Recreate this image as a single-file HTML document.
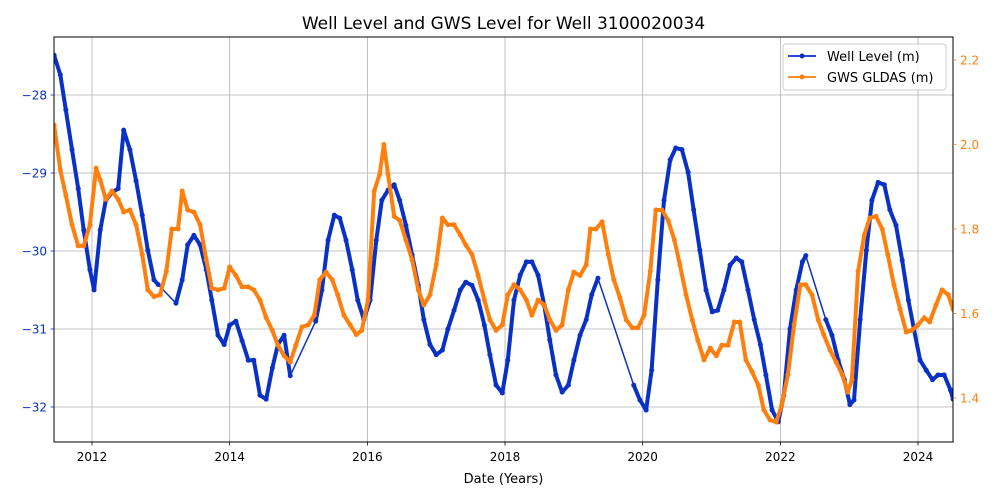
<!DOCTYPE html>
<html><head><meta charset="utf-8">
<style>
html,body{margin:0;padding:0;background:#fff;}
svg{display:block;font-family:"DejaVu Sans","Liberation Sans",sans-serif;}
</style></head>
<body>
<svg id="chart" width="1000" height="500" viewBox="0 0 1000 500" xmlns="http://www.w3.org/2000/svg">
<rect x="0" y="0" width="1000" height="500" fill="#fff"/>
<text x="503.5" y="29" font-size="17" text-anchor="middle" fill="#000">Well Level and GWS Level for Well 3100020034</text>
<defs><clipPath id="plotclip"><rect x="54" y="37" width="899" height="405"/></clipPath></defs>
<g id="grid"></g>
<g id="series" clip-path="url(#plotclip)"></g>
<rect x="54" y="37" width="899" height="405" fill="none" stroke="#000" stroke-width="1"/>
<g id="axes"></g>
<text x="503.5" y="483" font-size="13" text-anchor="middle" fill="#000">Date (Years)</text>
<g>
<rect x="783" y="44" width="163" height="46" rx="3" fill="#fff" fill-opacity="0.8" stroke="#ccc"/>
<g>
<line x1="788" y1="56" x2="816" y2="56" stroke="#0a31c6" stroke-width="1.8"/><circle cx="802" cy="56" r="2.5" fill="#0a31c6"/>
<text x="827" y="61" font-size="13" fill="#000">Well Level (m)</text></g>
<g>
<line x1="788" y1="77" x2="816" y2="77" stroke="#ff7f0e" stroke-width="1.8"/><circle cx="802" cy="77" r="2.5" fill="#ff7f0e"/>
<text x="827" y="82" font-size="13" fill="#000">GWS GLDAS (m)</text></g>
</g>
</svg>
<script>
const wellDates=[2011.45,2011.54,2011.62,2011.71,2011.80,2011.88,2011.97,2012.03,2012.12,2012.20,2012.29,2012.38,2012.46,2012.55,2012.64,2012.73,2012.81,2012.90,2012.96,2013.22,2013.31,2013.39,2013.48,2013.57,2013.66,2013.74,2013.83,2013.92,2014.00,2014.09,2014.18,2014.27,2014.35,2014.44,2014.53,2014.62,2014.70,2014.79,2014.88,2015.25,2015.34,2015.43,2015.52,2015.60,2015.69,2015.78,2015.86,2015.95,2016.04,2016.13,2016.21,2016.30,2016.39,2016.47,2016.56,2016.65,2016.74,2016.82,2016.91,2017.00,2017.09,2017.17,2017.26,2017.35,2017.43,2017.52,2017.61,2017.70,2017.78,2017.87,2017.96,2018.04,2018.13,2018.22,2018.31,2018.39,2018.48,2018.57,2018.65,2018.74,2018.83,2018.92,2019.00,2019.09,2019.18,2019.26,2019.35,2019.87,2019.96,2020.05,2020.13,2020.22,2020.31,2020.40,2020.48,2020.57,2020.66,2020.74,2020.83,2020.92,2021.01,2021.09,2021.18,2021.27,2021.36,2021.44,2021.53,2021.62,2021.71,2021.79,2021.88,2021.97,2022.05,2022.14,2022.23,2022.32,2022.37,2022.66,2022.75,2022.84,2022.93,2023.01,2023.07,2023.16,2023.25,2023.33,2023.42,2023.51,2023.59,2023.68,2023.77,2023.86,2023.94,2024.03,2024.12,2024.21,2024.29,2024.38,2024.47,2024.51];
const wellValues=[-27.49,-27.74,-28.19,-28.7,-29.2,-29.73,-30.24,-30.5,-29.73,-29.35,-29.25,-29.2,-28.45,-28.7,-29.1,-29.54,-29.99,-30.37,-30.43,-30.67,-30.37,-29.92,-29.8,-29.92,-30.24,-30.63,-31.08,-31.2,-30.95,-30.9,-31.15,-31.4,-31.4,-31.85,-31.9,-31.5,-31.2,-31.08,-31.6,-30.9,-30.5,-29.86,-29.54,-29.58,-29.86,-30.24,-30.63,-30.88,-30.63,-29.86,-29.35,-29.22,-29.15,-29.35,-29.67,-30.05,-30.44,-30.88,-31.2,-31.33,-31.27,-31.0,-30.76,-30.5,-30.4,-30.44,-30.63,-30.95,-31.33,-31.72,-31.82,-31.4,-30.63,-30.31,-30.14,-30.14,-30.31,-30.7,-31.14,-31.59,-31.81,-31.72,-31.4,-31.08,-30.88,-30.56,-30.35,-31.72,-31.91,-32.04,-31.53,-30.37,-29.35,-28.83,-28.68,-28.7,-28.99,-29.47,-29.99,-30.5,-30.78,-30.76,-30.5,-30.18,-30.09,-30.14,-30.5,-30.88,-31.2,-31.59,-32.04,-32.19,-31.85,-31.0,-30.5,-30.14,-30.06,-30.88,-31.08,-31.4,-31.65,-31.97,-31.91,-30.88,-29.99,-29.35,-29.12,-29.15,-29.47,-29.67,-30.12,-30.63,-31.0,-31.4,-31.53,-31.65,-31.59,-31.59,-31.78,-31.9];
const gwsDates=[2011.45,2011.54,2011.62,2011.71,2011.80,2011.88,2011.97,2012.06,2012.12,2012.20,2012.29,2012.38,2012.46,2012.55,2012.64,2012.73,2012.81,2012.90,2012.99,2013.08,2013.16,2013.25,2013.31,2013.39,2013.48,2013.57,2013.66,2013.74,2013.83,2013.92,2014.00,2014.09,2014.18,2014.27,2014.35,2014.44,2014.53,2014.62,2014.70,2014.79,2014.88,2014.96,2015.05,2015.14,2015.23,2015.31,2015.40,2015.49,2015.57,2015.66,2015.75,2015.84,2015.92,2016.01,2016.10,2016.18,2016.24,2016.30,2016.39,2016.47,2016.56,2016.65,2016.74,2016.82,2016.91,2017.00,2017.09,2017.17,2017.26,2017.35,2017.43,2017.52,2017.61,2017.70,2017.78,2017.87,2017.96,2018.04,2018.13,2018.22,2018.31,2018.39,2018.48,2018.57,2018.65,2018.74,2018.83,2018.92,2019.00,2019.09,2019.18,2019.24,2019.32,2019.41,2019.50,2019.58,2019.67,2019.76,2019.85,2019.93,2020.02,2020.11,2020.19,2020.28,2020.37,2020.46,2020.54,2020.63,2020.72,2020.80,2020.89,2020.98,2021.07,2021.15,2021.24,2021.33,2021.41,2021.50,2021.59,2021.68,2021.76,2021.85,2021.94,2022.02,2022.11,2022.20,2022.29,2022.37,2022.46,2022.55,2022.63,2022.72,2022.81,2022.90,2022.98,2023.04,2023.13,2023.22,2023.30,2023.39,2023.48,2023.56,2023.65,2023.74,2023.83,2023.91,2024.00,2024.09,2024.17,2024.26,2024.35,2024.44,2024.51];
const gwsValues=[2.046,1.94,1.88,1.81,1.76,1.76,1.81,1.944,1.916,1.87,1.89,1.87,1.84,1.845,1.81,1.74,1.656,1.64,1.644,1.70,1.80,1.80,1.89,1.845,1.84,1.81,1.727,1.66,1.656,1.66,1.71,1.69,1.663,1.663,1.656,1.632,1.59,1.56,1.525,1.50,1.485,1.525,1.568,1.573,1.596,1.68,1.698,1.68,1.644,1.596,1.573,1.55,1.56,1.632,1.89,1.93,2.0,1.93,1.83,1.82,1.774,1.727,1.656,1.62,1.644,1.715,1.826,1.81,1.81,1.786,1.762,1.74,1.69,1.632,1.585,1.56,1.573,1.644,1.668,1.656,1.632,1.596,1.632,1.62,1.585,1.56,1.573,1.656,1.698,1.69,1.715,1.80,1.80,1.817,1.74,1.68,1.637,1.585,1.566,1.566,1.596,1.70,1.845,1.845,1.82,1.774,1.715,1.644,1.585,1.537,1.49,1.518,1.50,1.525,1.525,1.58,1.58,1.49,1.462,1.43,1.372,1.348,1.343,1.383,1.455,1.573,1.668,1.668,1.644,1.585,1.55,1.514,1.485,1.455,1.414,1.443,1.70,1.786,1.826,1.83,1.80,1.74,1.668,1.61,1.556,1.56,1.573,1.59,1.58,1.62,1.656,1.644,1.61];
const xTicks=[2012,2014,2016,2018,2020,2022,2024];
const leftTicks=[-28,-29,-30,-31,-32];
const rightTicks=[2.2,2.0,1.8,1.6,1.4];

const NS='http://www.w3.org/2000/svg';
const PL=54,PR=953,PT=37,PB=442;
const X0=2011.448,X1=2024.508, L0=-32.449,L1=-27.256, R0=1.2959,R1=2.2544;
const xs=d=>PL+(d-X0)/(X1-X0)*(PR-PL);
const yl=v=>PB-(v-L0)/(L1-L0)*(PB-PT);
const yr=v=>PB-(v-R0)/(R1-R0)*(PB-PT);
function mk(tag,attrs,parent){const e=document.createElementNS(NS,tag);for(const k in attrs)e.setAttribute(k,attrs[k]);parent.appendChild(e);return e;}
const grid=document.getElementById('grid'),axes=document.getElementById('axes'),series=document.getElementById('series');
xTicks.forEach(t=>{const x=xs(t);
 const g=mk('line',{x1:x,x2:x,y1:PT,y2:PB,stroke:'#b0b0b0','stroke-width':0.8},grid);
 
 mk('line',{x1:x,x2:x,y1:PB,y2:PB+3.5,stroke:'#000','stroke-width':0.8},axes);
 const tx=mk('text',{x:x,y:PB+19,'font-size':12,'text-anchor':'middle',fill:'#000'},axes);tx.textContent=t;
 });
leftTicks.forEach(t=>{const y=yl(t);
 const g=mk('line',{x1:PL,x2:PR,y1:y,y2:y,stroke:'#b0b0b0','stroke-width':0.8},grid);
 
 mk('line',{x1:PL-3.5,x2:PL,y1:y,y2:y,stroke:'#0a31c6','stroke-width':0.8},axes);
 const tx=mk('text',{x:PL-7,y:y+4.5,'font-size':12,'text-anchor':'end',fill:'#0a31c6'},axes);tx.textContent='\u2212'+Math.abs(t);
 });
rightTicks.forEach(t=>{const y=yr(t);
 mk('line',{x1:PR,x2:PR+3.5,y1:y,y2:y,stroke:'#ff7f0e','stroke-width':0.8},axes);
 const tx=mk('text',{x:PR+7,y:y+4.5,'font-size':12,'text-anchor':'start',fill:'#ff7f0e'},axes);tx.textContent=t.toFixed(1);
 });
function drawSeries(dates,vals,yf,color,name){
 const g=mk('g',{},series);
 let d='',thick='';
 for(let i=0;i<dates.length;i++){const x=xs(dates[i]).toFixed(1),y=yf(vals[i]).toFixed(1);
  d+=(i?'L':'M')+x+' '+y;
  if(i>0&&dates[i]-dates[i-1]<0.15){thick+='M'+xs(dates[i-1]).toFixed(1)+' '+yf(vals[i-1]).toFixed(1)+'L'+x+' '+y;}}
 mk('path',{d:d,fill:'none',stroke:color,'stroke-width':1.5},g);
 mk('path',{d:thick,fill:'none',stroke:color,'stroke-width':4,'stroke-linejoin':'round','stroke-linecap':'round'},g);
 for(let i=0;i<dates.length;i++){const c=mk('circle',{cx:xs(dates[i]),cy:yf(vals[i]),r:2.5,fill:color},g);
  }
}
drawSeries(wellDates,wellValues,yl,'#0a31c6','well-level-series');
drawSeries(gwsDates,gwsValues,yr,'#ff7f0e','gws-gldas-series');
</script>
</body></html>
